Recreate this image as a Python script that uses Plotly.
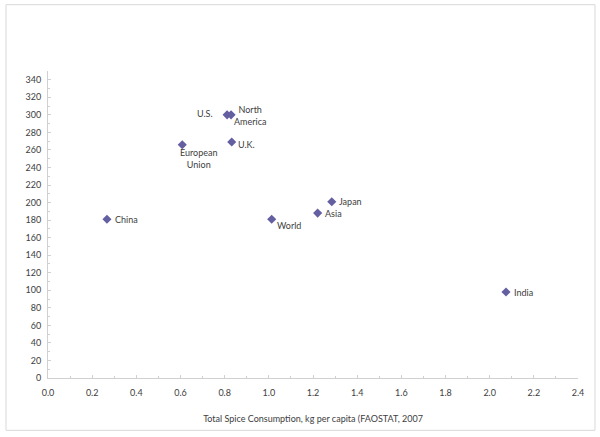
import plotly.graph_objects as go

# ---- data ----
regions = ["China", "India", "U.S.", "North America", "U.K.", "European Union",
           "World", "Asia", "Japan"]
consumption = [0.267, 2.074, 0.811, 0.829, 0.832, 0.608, 1.013, 1.221, 1.285]
y_values = [181, 98, 300, 300, 269, 266, 181, 188, 201]
label_texts = ["China", "India", "U.S.", "North<br>America", "U.K.", "European<br>Union",
               "World", "Asia", "Japan"]

x_title = "Total Spice Consumption, kg per capita (FAOSTAT, 2007"

# ---- label placement styles (pixel offsets) ----
label_style = [
    dict(ax=6, ay=0, xanchor="left", yanchor="middle", align="left"),      # China
    dict(ax=6, ay=0, xanchor="left", yanchor="middle", align="left"),      # India
    dict(ax=-12, ay=-1, xanchor="right", yanchor="middle", align="right"), # US
    dict(ax=1, ay=1, xanchor="left", yanchor="middle", align="center"),    # North America
    dict(ax=4, ay=2, xanchor="left", yanchor="middle", align="left"),      # UK
    dict(ax=17, ay=0, xanchor="center", yanchor="top", align="center"),    # EU
    dict(ax=3, ay=-1, xanchor="left", yanchor="top", align="left"),        # World
    dict(ax=5, ay=0, xanchor="left", yanchor="middle", align="left"),      # Asia
    dict(ax=5, ay=0, xanchor="left", yanchor="middle", align="left"),      # Japan
]

FONT = "Lato, 'Open Sans', sans-serif"
TXT = "#404040"
AXIS = "#D0D0D0"
MARK = "#635FA0"

fig = go.Figure()
fig.add_trace(go.Scatter(
    x=consumption, y=y_values, mode="markers",
    marker=dict(symbol="diamond", size=7, color=MARK),
    hovertext=regions, hoverinfo="text+x+y", showlegend=False,
))

for xv, yv, t, st in zip(consumption, y_values, label_texts, label_style):
    fig.add_annotation(x=xv, y=yv, xref="x", yref="y", text=t, showarrow=True,
                       arrowcolor="rgba(0,0,0,0)", arrowwidth=0.1,
                       ax=st["ax"], ay=st["ay"], axref="pixel", ayref="pixel",
                       xanchor=st["xanchor"], yanchor=st["yanchor"], align=st["align"],
                       font=dict(family=FONT, size=9, color=TXT), standoff=0)

L, R, T, B = 48, 22, 70.5, 58.5
W, H = 600, 437
pw, ph = W - L - R, H - T - B
def px2paper(px, py):
    return (px - L) / pw, (H - B - py) / ph
x0, y0 = px2paper(6, 431)
x1, y1 = px2paper(595, 4)
fig.add_shape(type="rect", xref="paper", yref="paper", x0=x0, y0=y0, x1=x1, y1=y1,
              line=dict(color="#D9D9D9", width=1), layer="below")

fig.update_layout(
    width=W, height=H,
    margin=dict(l=L, r=R, t=T, b=B, pad=0),
    paper_bgcolor="white", plot_bgcolor="white",
    font=dict(family=FONT, size=9, color=TXT),
    xaxis=dict(range=[0, 2.4], dtick=0.2, tick0=0, tickformat=".1f",
               showgrid=False, zeroline=False, showline=True, linecolor=AXIS, linewidth=1,
               ticks="inside", ticklen=3, tickcolor=AXIS,
               minor=dict(dtick=0.1, ticks="inside", ticklen=2, tickcolor=AXIS),
               title=dict(text=x_title, standoff=18, font=dict(size=9, color=TXT)),
               tickfont=dict(size=9, color=TXT), ticklabelstandoff=6),
    yaxis=dict(range=[0, 350], dtick=20, tick0=0,
               showgrid=False, zeroline=False, showline=True, linecolor=AXIS, linewidth=1,
               ticks="inside", ticklen=3, tickcolor=AXIS,
               minor=dict(dtick=10, ticks="inside", ticklen=2, tickcolor=AXIS),
               tickfont=dict(size=9, color=TXT), ticklabelstandoff=4),
)

fig.write_html("out.html", config={"displayModeBar": False},
               post_script="document.body.style.margin='0';document.body.style.overflow='hidden';")
